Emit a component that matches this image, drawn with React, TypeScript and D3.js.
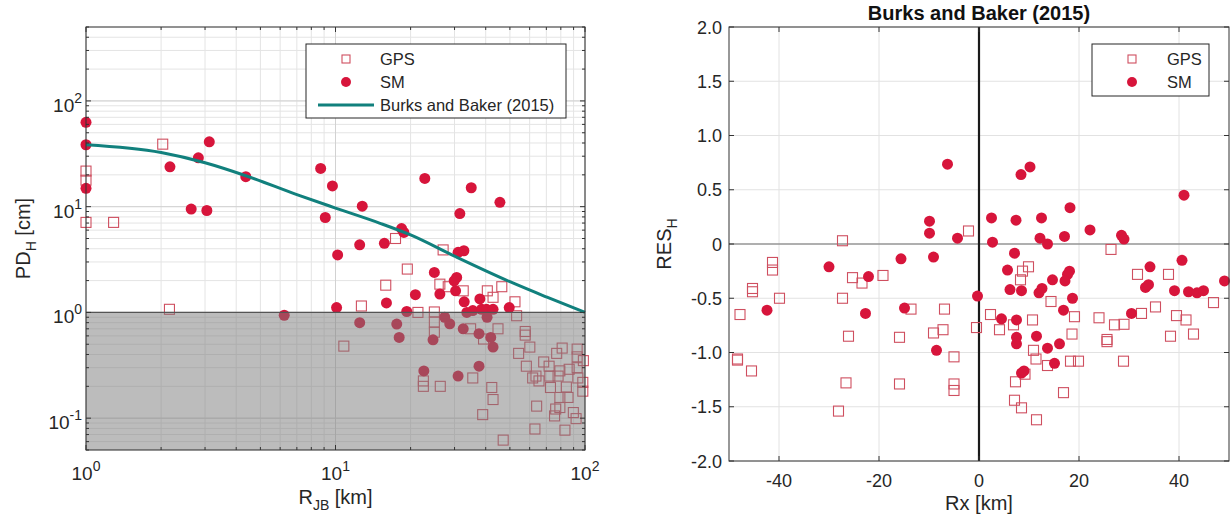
import React from 'react';
import * as d3 from 'd3';

const FONT = '"Liberation Sans", Arial, Helvetica, sans-serif';

// ---- left panel: PD_H vs R_JB (log-log) ----
const gpsRjb = [2.03, 1, 1, 1, 1.29, 17.4, 27, 19.4, 15.9, 26.2, 28.3, 12.7, 21.4, 24.9, 24.9, 24.9, 10.8, 22.5, 22.5, 26.3,
  32.5, 40.6, 46.4, 42.8, 52.4, 53.2, 44.8, 34.8, 39.2, 57.6, 57.6, 60.1, 54.2, 58.2, 68.3, 77, 81, 93, 93, 98.5,
  61.7, 63.6, 65.4, 71.8, 72.3, 79.3, 78, 86.4, 93, 93.6, 35.5, 72.7, 84.2, 98, 98, 42.3, 42.8, 79.3, 85.5, 64,
  76.3, 79.3, 75.5, 89.8, 92.1, 38.9, 63, 83.1, 47, 2.16];
const gpsPd = [39, 21.7, 17.8, 7.1, 7.1, 5.0, 3.9, 2.57, 1.81, 1.85, 1.75, 1.15, 1.0, 1.01, 0.81, 0.65, 0.48, 0.225, 0.2, 0.2,
  1.6, 1.6, 1.75, 1.39, 1.26, 0.93, 0.7, 0.7, 0.56, 0.66, 0.61, 0.47, 0.41, 0.31, 0.34, 0.41, 0.46, 0.45, 0.38, 0.35,
  0.24, 0.25, 0.225, 0.31, 0.25, 0.28, 0.25, 0.29, 0.3, 0.24, 0.24, 0.195, 0.197, 0.218, 0.18, 0.195, 0.15, 0.157, 0.157, 0.13,
  0.122, 0.126, 0.105, 0.113, 0.099, 0.108, 0.079, 0.077, 0.062, 1.07];

const smRjb = [1, 1, 1, 2.17, 2.82, 3.12, 4.37, 2.64, 3.05, 8.72, 9.1, 9.72, 12.8, 22.8, 35, 45.6, 31.5, 18.4, 18.8, 12.5,
  15.7, 10.2, 31, 32.7, 24.9, 20.9, 26.2, 16.0, 10.1, 19.3, 30.6, 29.9, 30.3, 32.8, 37.9, 33.6, 35.5, 38.5, 40.3, 42.8,
  49.7, 6.23, 12.5, 17.6, 18, 24.6, 27.4, 28.7, 32.5, 37.6, 40.5, 41.9, 42.8, 22.6, 37.6, 31];
const smPd = [62.7, 38.5, 14.9, 23.8, 29, 41, 19.2, 9.5, 9.2, 23, 7.9, 15.7, 10.1, 18.5, 15.1, 11, 8.6, 6.2, 5.7, 4.36,
  4.5, 3.5, 3.7, 3.83, 2.39, 1.47, 1.49, 1.23, 1.11, 1.02, 2.14, 1.99, 1.6, 1.26, 1.34, 1.0, 1.04, 1.07, 1.07, 1.07,
  1.11, 0.94, 0.8, 0.775, 0.58, 0.55, 0.9, 0.78, 0.7, 0.63, 0.9, 0.58, 0.47, 0.28, 0.31, 0.25];

// Burks and Baker (2015) median curve
const bbRjb = [1, 2, 3, 4.4, 7, 10, 15, 20, 30, 50, 70, 100];
const bbPd = [38.5, 32.5, 26, 19.5, 13.0, 9.7, 7.0, 5.4, 3.4, 1.95, 1.4, 1.0];

// ---- right panel: residuals vs Rx ----
const gpsRx = [-27.3, -2.1, -41.3, -41.3, -25.3, -23.4, -19.2, -45.3, -45.3, -39.9, -27.3, -47.8, -13.6, -6.9, -26.1, -15.9,
  -9.1, -7.2, -0.5, -48.3, -48.3, -45.5, -5.0, -26.6, -15.9, -5.0, -5.0, -28.1,
  26.4, 9.9, 8.7, 8.3, 31.7, 37.9, 14.4, 35.3, 32.5, 46.9, 2.3, 4.1, 6.9, 10.7, 19.1, 24.0, 27.1, 29.0, 39.5, 41.4,
  18.6, 25.6, 25.6, 38.3, 42.9, 10.9, 11.4, 13.7, 18.3, 19.9, 28.9, 9.2, 7.3, 16.9, 7.1, 8.5, 11.5];
const gpsRes = [0.03, 0.12, -0.17, -0.24, -0.31, -0.36, -0.29, -0.41, -0.44, -0.5, -0.5, -0.65, -0.6, -0.6, -0.85, -0.86,
  -0.82, -0.79, -0.77, -1.06, -1.07, -1.17, -1.04, -1.28, -1.29, -1.29, -1.35, -1.54,
  -0.05, -0.21, -0.25, -0.33, -0.28, -0.28, -0.53, -0.58, -0.64, -0.54, -0.65, -0.79, -0.745, -0.7, -0.67, -0.68, -0.745, -0.74, -0.66, -0.7,
  -0.83, -0.88, -0.9, -0.85, -0.83, -0.98, -1.06, -1.12, -1.08, -1.08, -1.08, -1.2, -1.27, -1.37, -1.44, -1.51, -1.62];

const smRx = [-6.3, -9.9, -9.9, -4.3, -15.6, -9.1, -30.0, -22.1, -0.3, -42.4, -22.7, -14.9, -8.5,
  8.4, 10.2, 41.0, 2.5, 7.4, 12.5, 18.2, 2.7, 12.2, 13.7, 17.1, 22.2, 28.5, 29.0, 7.1, 5.7, 18.1, 17.7, 17.2, 14.7,
  34.2, 40.6, 6.2, 8.5, 12.0, 12.6, 18.7, 33.3, 33.9, 39.1, 41.9, 43.6, 44.9, 49.1, 16.9, 30.5, 4.5, 7.5, 7.5, 7.5,
  11.5, 13.7, 16.1, 15.1, 8.5, 9.0];
const smRes = [0.736, 0.21, 0.1, 0.054, -0.137, -0.12, -0.21, -0.3, -0.48, -0.61, -0.64, -0.59, -0.98,
  0.64, 0.71, 0.45, 0.24, 0.22, 0.24, 0.335, 0.017, 0.054, 0.0, 0.07, 0.13, 0.08, 0.045, -0.085, -0.24, -0.25, -0.28, -0.34, -0.33,
  -0.21, -0.15, -0.42, -0.43, -0.45, -0.41, -0.5, -0.4, -0.375, -0.43, -0.44, -0.45, -0.43, -0.34, -0.61, -0.64, -0.69, -0.7, -0.86, -0.92,
  -0.85, -0.96, -0.92, -1.1, -1.19, -1.17];

const resTicks = [-2, -1.5, -1, -0.5, 0, 0.5, 1, 1.5, 2];
const rxTicks = [-40, -20, 0, 20, 40];

const SM_COLOR = '#d7153b';
const GPS_COLOR = '#cf4f60';
const LINE_COLOR = '#11807d';
const AX = '#333333';

function logMinorTicks(lo: number, hi: number) {
  const out: number[] = [];
  for (let e = -3; e <= 3; e++) {
    for (let m = 1; m <= 9; m++) {
      const v = m * Math.pow(10, e);
      if (v >= lo * 0.9999 && v <= hi * 1.0001) out.push(+v.toPrecision(6));
    }
  }
  return out;
}

function Pow10({ x, y, exp, anchor }: { x: number; y: number; exp: number; anchor: string }) {
  return (
    <text x={x} y={y} textAnchor={anchor} fontSize={19} fill="#262626">
      10<tspan dy={-9} fontSize={14}>{exp}</tspan>
    </text>
  );
}

function LeftPanel() {
  const x0 = 86, x1 = 585, y0 = 27, y1 = 450;
  const x = d3.scaleLog().domain([1, 100]).range([x0, x1]);
  const y = d3.scaleLog().domain([0.05, 500]).range([y1, y0]);
  const xMinor = logMinorTicks(1, 100);
  const yMinor = logMinorTicks(0.05, 500);
  const xMajor = [1, 10, 100];
  const yMajor = [0.1, 1, 10, 100];
  const line = d3.line<number>()
    .x((_, i) => x(bbRjb[i]))
    .y(d => y(d))
    .curve(d3.curveMonotoneX);

  return (
    <g>
      {/* grid */}
      {xMinor.map(v => (
        <line key={'gx' + v} x1={x(v)} x2={x(v)} y1={y0} y2={y1} stroke="#e4e4e4" strokeWidth={1} />
      ))}
      {yMinor.map(v => (
        <line key={'gy' + v} x1={x0} x2={x1} y1={y(v)} y2={y(v)} stroke="#e4e4e4" strokeWidth={1} />
      ))}
      {xMajor.map(v => (
        <line key={'GX' + v} x1={x(v)} x2={x(v)} y1={y0} y2={y1} stroke="#d2d2d2" strokeWidth={1} />
      ))}
      {yMajor.map(v => (
        <line key={'GY' + v} x1={x0} x2={x1} y1={y(v)} y2={y(v)} stroke="#d2d2d2" strokeWidth={1} />
      ))}

      {/* data */}
      {gpsRjb.map((r, i) => (
        <rect key={'gps' + i} x={x(r) - 5} y={y(gpsPd[i]) - 5} width={10} height={10}
          fill="none" stroke={GPS_COLOR} strokeWidth={1.1} />
      ))}
      {smRjb.map((r, i) => (
        <circle key={'sm' + i} cx={x(r)} cy={y(smPd[i])} r={5.5} fill={SM_COLOR} />
      ))}

      {/* shaded region below 1 cm */}
      <rect x={x0} y={y(1)} width={x1 - x0} height={y1 - y(1)} fill="#7a7a7a" fillOpacity={0.5} />
      <line x1={x0} x2={x1} y1={y(1)} y2={y(1)} stroke="#555" strokeWidth={1.2} />

      <path d={line(bbPd) || ''} fill="none" stroke={LINE_COLOR} strokeWidth={3} />

      {/* ticks */}
      {xMinor.map(v => {
        const len = xMajor.includes(v) ? 5 : 3;
        return (
          <g key={'tx' + v}>
            <line x1={x(v)} x2={x(v)} y1={y1} y2={y1 - len} stroke={AX} />
            <line x1={x(v)} x2={x(v)} y1={y0} y2={y0 + len} stroke={AX} />
          </g>
        );
      })}
      {yMinor.map(v => {
        const len = yMajor.includes(v) ? 5 : 3;
        return (
          <g key={'ty' + v}>
            <line x1={x0} x2={x0 + len} y1={y(v)} y2={y(v)} stroke={AX} />
            <line x1={x1} x2={x1 - len} y1={y(v)} y2={y(v)} stroke={AX} />
          </g>
        );
      })}
      <rect x={x0} y={y0} width={x1 - x0} height={y1 - y0} fill="none" stroke={AX} strokeWidth={1} />

      {xMajor.map(v => (
        <Pow10 key={'lx' + v} x={x(v)} y={480} exp={Math.round(Math.log10(v))} anchor="middle" />
      ))}
      {yMajor.map(v => (
        <Pow10 key={'ly' + v} x={82} y={y(v) + 11} exp={Math.round(Math.log10(v))} anchor="end" />
      ))}

      <text x={(x0 + x1) / 2} y={504} textAnchor="middle" fontSize={20} fill="#262626">
        R<tspan dy={6} fontSize={14}>JB</tspan><tspan dy={-6}> [km]</tspan>
      </text>
      <text transform={`translate(30, ${(y0 + y1) / 2}) rotate(-90)`} textAnchor="middle" fontSize={20} fill="#262626">
        PD<tspan dy={6} fontSize={14}>H</tspan><tspan dy={-6}> [cm]</tspan>
      </text>

      {/* legend */}
      <rect x={306} y={44} width={260} height={74} fill="#fff" stroke="#262626" strokeWidth={1} />
      <rect x={342} y={55} width={8} height={8} fill="none" stroke={GPS_COLOR} strokeWidth={1.1} />
      <text x={380} y={65} fontSize={16.5} fill="#262626">GPS</text>
      <circle cx={346} cy={82} r={5} fill={SM_COLOR} />
      <text x={380} y={88} fontSize={16.5} fill="#262626">SM</text>
      <line x1={318} x2={374} y1={105} y2={105} stroke={LINE_COLOR} strokeWidth={3} />
      <text x={380} y={111} fontSize={16.5} fill="#262626">Burks and Baker (2015)</text>
    </g>
  );
}

function RightPanel() {
  const x0 = 729, x1 = 1229, y0 = 27, y1 = 461;
  const x = d3.scaleLinear().domain([-50, 50]).range([x0, x1]);
  const y = d3.scaleLinear().domain([-2, 2]).range([y1, y0]);
  const fmt = (v: number) => (v === 0 ? '0' : d3.format('.1f')(v).replace('−', '-'));

  return (
    <g>
      {rxTicks.map(v => (
        <line key={'gx' + v} x1={x(v)} x2={x(v)} y1={y0} y2={y1} stroke="#e2e2e2" />
      ))}
      {resTicks.map(v => (
        <line key={'gy' + v} x1={x0} x2={x1} y1={y(v)} y2={y(v)} stroke="#e2e2e2" />
      ))}
      <line x1={x0} x2={x1} y1={y(0)} y2={y(0)} stroke="#6e6e6e" strokeWidth={1.2} />
      <line x1={x(0)} x2={x(0)} y1={y0} y2={y1} stroke="#1a1a1a" strokeWidth={2.2} />

      {gpsRx.map((r, i) => (
        <rect key={'gps' + i} x={x(r) - 5} y={y(gpsRes[i]) - 5} width={10} height={10}
          fill="none" stroke={GPS_COLOR} strokeWidth={1.1} />
      ))}
      {smRx.map((r, i) => (
        <circle key={'sm' + i} cx={x(r)} cy={y(smRes[i])} r={5.5} fill={SM_COLOR} />
      ))}

      {rxTicks.map(v => (
        <g key={'tx' + v}>
          <line x1={x(v)} x2={x(v)} y1={y1} y2={y1 - 5} stroke={AX} />
          <line x1={x(v)} x2={x(v)} y1={y0} y2={y0 + 5} stroke={AX} />
          <text x={x(v)} y={487} textAnchor="middle" fontSize={18} fill="#262626">{v}</text>
        </g>
      ))}
      {resTicks.map(v => (
        <g key={'ty' + v}>
          <line x1={x0} x2={x0 + 5} y1={y(v)} y2={y(v)} stroke={AX} />
          <line x1={x1} x2={x1 - 5} y1={y(v)} y2={y(v)} stroke={AX} />
          <text x={722} y={y(v) + 6.5} textAnchor="end" fontSize={18} fill="#262626">{fmt(v)}</text>
        </g>
      ))}
      <rect x={x0} y={y0} width={x1 - x0} height={y1 - y0} fill="none" stroke={AX} strokeWidth={1} />

      <text x={(x0 + x1) / 2} y={20} textAnchor="middle" fontSize={20} fontWeight="bold" fill="#111">
        Burks and Baker (2015)
      </text>
      <text x={(x0 + x1) / 2} y={510} textAnchor="middle" fontSize={20} fill="#262626">Rx [km]</text>
      <text transform={`translate(671, ${(y0 + y1) / 2}) rotate(-90)`} textAnchor="middle" fontSize={20} fill="#262626">
        RES<tspan dy={6} fontSize={14}>H</tspan>
      </text>

      <rect x={1092} y={44} width={117} height={52} fill="#fff" stroke="#262626" strokeWidth={1} />
      <rect x={1128} y={55} width={8} height={8} fill="none" stroke={GPS_COLOR} strokeWidth={1.1} />
      <text x={1167} y={65} fontSize={16.5} fill="#262626">GPS</text>
      <circle cx={1132} cy={82} r={5} fill={SM_COLOR} />
      <text x={1167} y={88} fontSize={16.5} fill="#262626">SM</text>
    </g>
  );
}

export default function App() {
  return (
    <svg width={1231} height={518} style={{ position: 'absolute', left: 0, top: 0, background: '#fff' }}
      fontFamily={FONT}>
      <rect width={1231} height={518} fill="#fff" />
      <LeftPanel />
      <RightPanel />
    </svg>
  );
}
